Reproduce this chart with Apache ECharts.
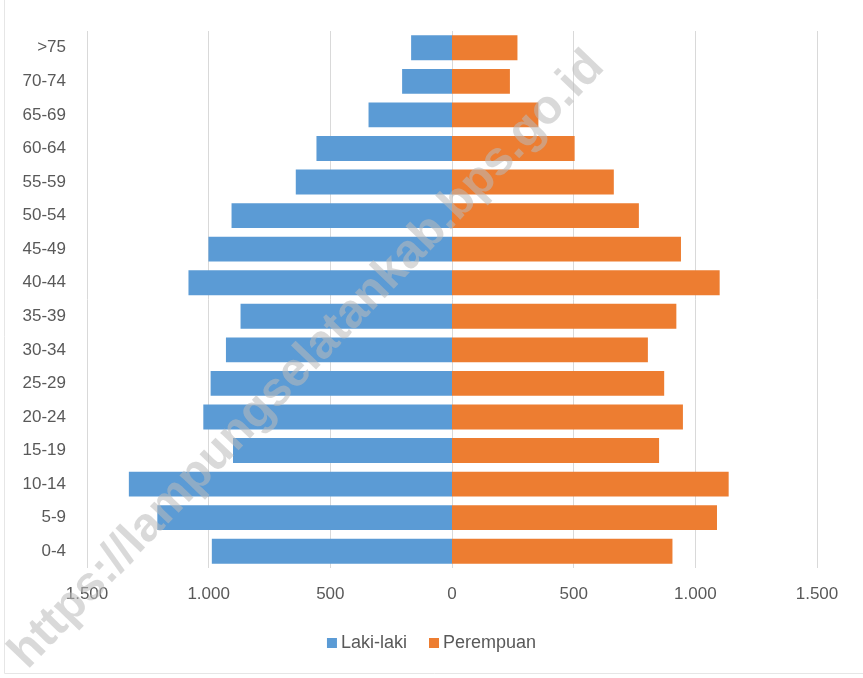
<!DOCTYPE html>
<html>
<head>
<meta charset="utf-8">
<script src="https://cdn.jsdelivr.net/npm/echarts@6/dist/echarts.min.js"></script>
<style>
  html, body { margin: 0; padding: 0; background: #fff; }
  #chart { width: 863px; height: 678px; }
</style>
</head>
<body>
<div id="chart"></div>
<script>
// Age groups, bottom to top
const ageGroups = ['0-4', '5-9', '10-14', '15-19', '20-24', '25-29', '30-34', '35-39',
                   '40-44', '45-49', '50-54', '55-59', '60-64', '65-69', '70-74', '>75'];
// Population by sex
const lakiLaki  = [987, 1211, 1328, 900, 1022, 992, 929, 869, 1083, 1001, 906, 642, 557, 343, 205, 168];
const perempuan = [906, 1089, 1137, 851, 949, 872, 805, 922, 1100, 941, 768, 665, 504, 355, 238, 269];
// Horizontal axis ticks
const xTicks = [-1500, -1000, -500, 0, 500, 1000, 1500];

const fmt = v => {
  const a = Math.abs(v);
  return a >= 1000 ? Math.floor(a / 1000) + '.' + String(a % 1000).padStart(3, '0') : String(a);
};

const chart = echarts.init(document.getElementById('chart'));
const labelFont = { color: '#595959', fontSize: 17, fontFamily: 'Liberation Sans, Arial, sans-serif' };

chart.setOption({
  animation: false,
  textStyle: { fontFamily: 'Liberation Sans, Arial, sans-serif' },
  grid: { left: 87, right: 46, top: 31, bottom: 110, containLabel: false },
  xAxis: {
    type: 'value',
    min: xTicks[0],
    max: xTicks[xTicks.length - 1],
    interval: 500,
    axisLine: { show: false },
    axisTick: { show: false },
    splitLine: { show: true, lineStyle: { color: '#d9d9d9', width: 1 } },
    axisLabel: Object.assign({ margin: 18, formatter: fmt }, labelFont)
  },
  yAxis: {
    type: 'category',
    data: ageGroups,
    axisLine: { show: false },
    axisTick: { show: false },
    axisLabel: Object.assign({ margin: 21 }, labelFont)
  },
  legend: {
    bottom: 21,
    left: 'center',
    itemWidth: 10,
    itemHeight: 10,
    itemGap: 22,
    itemStyle: { borderWidth: 0 },
    icon: 'rect',
    textStyle: Object.assign({}, labelFont, { fontSize: 18, padding: [0, 0, 0, -1] }),
    data: ['Laki-laki', 'Perempuan']
  },
  series: [
    {
      name: 'Laki-laki',
      type: 'bar',
      stack: 'pop',
      barCategoryGap: '26%',
      itemStyle: { color: '#5b9bd5' },
      data: lakiLaki.map(v => -v)
    },
    {
      name: 'Perempuan',
      type: 'bar',
      stack: 'pop',
      barCategoryGap: '26%',
      itemStyle: { color: '#ed7d31' },
      data: perempuan
    }
  ],
  graphic: [
    {
      type: 'rect',
      silent: true,
      shape: { x: 4.5, y: -2, width: 870, height: 675.5 },
      style: { fill: 'none', stroke: '#e6e6e6', lineWidth: 1 },
      z: 1
    },
    {
      type: 'text',
      silent: true,
      x: 307,
      y: 360,
      rotation: Math.PI / 4 + 0.02,
      z: 100,
      style: {
        text: 'https://lampungselatankab.bps.go.id',
        fill: 'rgba(185,185,185,0.55)',
        font: 'bold 48px Liberation Sans, Arial, sans-serif',
        textAlign: 'center',
        textVerticalAlign: 'middle'
      }
    }
  ]
});
</script>
</body>
</html>
